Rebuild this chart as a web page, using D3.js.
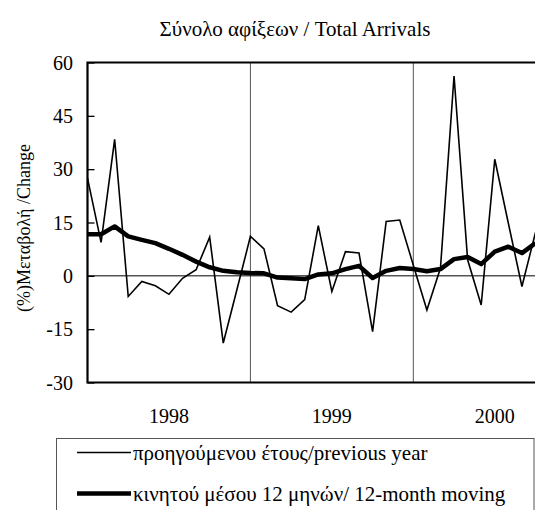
<!DOCTYPE html>
<html>
<head>
<meta charset="utf-8">
<script src="https://cdn.jsdelivr.net/npm/d3@7"></script>
<style>
  body { margin: 0; background: #fff; }
  svg text { font-family: "Liberation Serif", "Times New Roman", serif; fill: #000; }
</style>
</head>
<body>
<script>
// data: monthly % change, Jan 1998 - Oct 2000
var years = ["1998", "1999", "2000"];
var months = d3.range(34).map(function (i) { return years[0] * 1 + Math.floor(i / 12) + "-" + (i % 12 + 1); });

var yoy = [27.5, 9.4, 38.4, -5.8, -1.6, -2.8, -5.2, -0.7, 1.7, 10.9, -18.9, -4.0,
           11.1, 7.6, -8.4, -10.2, -6.7, 14.1, -4.4, 6.8, 6.4, -15.7, 15.3, 15.7,
           3.0, -9.6, 2.2, 56.2, 4.5, -8.2, 32.8, 14.8, -3.0, 12.2];
var moving = [11.7, 11.7, 13.9, 11.1, 10.1, 9.2, 7.6, 5.9, 4.0, 2.4, 1.4, 1.0,
              0.8, 0.7, -0.5, -0.7, -0.9, 0.4, 0.7, 1.9, 2.8, -0.6, 1.4, 2.2,
              1.9, 1.3, 1.9, 4.7, 5.3, 3.3, 6.8, 8.2, 6.4, 9.2];
var yTicks = [60, 45, 30, 15, 0, -15, -30];

var title = "Σύνολο αφίξεων / Total Arrivals";
var yTitle = "(%)Μεταβολή /Change";
var legendNames = ["προηγούμενου έτους/previous year", "κινητού μέσου 12 μηνών/ 12-month moving"];

var W = 535, H = 510;
var svg = d3.select("body").append("svg").attr("width", W).attr("height", H);

var x = d3.scalePoint().domain(months).range([87.5, 535.5]);
var y = d3.scaleLinear().domain([-30, 60]).range([382.5, 62.5]);

// title
svg.append("text")
  .attr("x", 295).attr("y", 36)
  .attr("text-anchor", "middle")
  .style("font-size", "21px")
  .text(title);

// year separators
svg.selectAll(".yearline")
  .data([months[12], months[24]])
  .enter().append("line")
  .attr("x1", function (d) { return x(d); }).attr("x2", function (d) { return x(d); })
  .attr("y1", y(60)).attr("y2", y(-30))
  .style("stroke", "#555").style("stroke-width", 1);

// zero line
svg.append("line")
  .attr("x1", x.range()[0]).attr("x2", x.range()[1])
  .attr("y1", y(0)).attr("y2", y(0))
  .style("stroke", "#000").style("stroke-width", 1);

// y axis ticks pointing inward
var yAxis = d3.axisRight(y).tickValues(yTicks).tickSize(7).tickFormat("");
svg.append("g").attr("transform", "translate(" + x.range()[0] + ",0)").call(yAxis)
  .call(function (g) { g.select(".domain").remove(); g.selectAll("line").style("stroke", "#000").style("stroke-width", 1.3); });

svg.selectAll(".ylab")
  .data(yTicks)
  .enter().append("text")
  .attr("x", 73).attr("y", function (d) { return y(d) + 7; })
  .attr("text-anchor", "end")
  .style("font-size", "20px")
  .text(function (d) { return d; });

// plot frame
svg.append("path")
  .attr("d", "M" + x.range()[1] + "," + y(60) + "H" + x.range()[0] + "V" + y(-30) + "H" + x.range()[1])
  .style("fill", "none").style("stroke", "#000").style("stroke-width", 2.2);

// year labels at mid year
svg.selectAll(".xlab")
  .data(years)
  .enter().append("text")
  .attr("x", function (d, i) { return x(months[i * 12 + 6]); })
  .attr("y", 423)
  .attr("text-anchor", "middle")
  .style("font-size", "20px")
  .text(function (d) { return d; });

// lines
var line = d3.line().x(function (d, i) { return x(months[i]); }).y(function (d) { return y(d); });

svg.append("path").datum(moving).attr("d", line)
  .style("fill", "none").style("stroke", "#000").style("stroke-width", 4.5).style("stroke-linejoin", "round");
svg.append("path").datum(yoy).attr("d", line)
  .style("fill", "none").style("stroke", "#000").style("stroke-width", 1.6).style("stroke-linejoin", "miter");

// legend
svg.append("rect")
  .attr("x", 56.5).attr("y", 438.5).attr("width", 477.5).attr("height", 90)
  .style("fill", "none").style("stroke", "#555").style("stroke-width", 1);

var leg = svg.selectAll(".leg").data(legendNames).enter().append("g")
  .attr("transform", function (d, i) { return "translate(0," + (452.5 + i * 41) + ")"; });
leg.append("line")
  .attr("x1", 77).attr("x2", 131)
  .style("stroke", "#000").style("stroke-width", function (d, i) { return i ? 4.5 : 1.6; });
leg.append("text")
  .attr("x", 133).attr("y", 7)
  .style("font-size", "21px")
  .text(function (d) { return d; });

// y title
svg.append("text")
  .attr("transform", "translate(30,228) rotate(-90)")
  .attr("text-anchor", "middle")
  .style("font-size", "18px")
  .text(yTitle);
</script>
</body>
</html>
